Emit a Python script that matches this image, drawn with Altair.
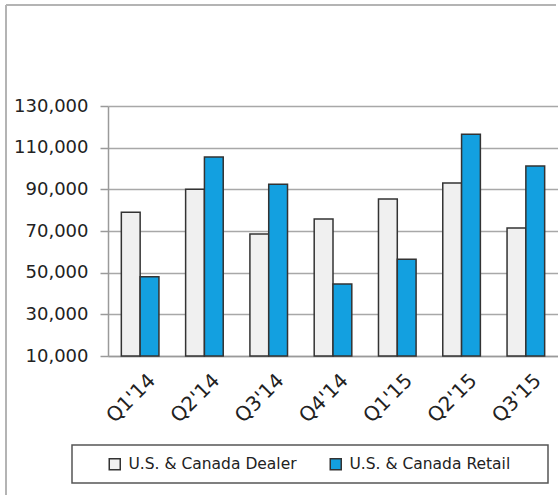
import altair as alt
import pandas as pd

quarters = ["Q1'14", "Q2'14", "Q3'14", "Q4'14", "Q1'15", "Q2'15", "Q3'15"]
dealer = [79000, 90000, 68600, 75800, 85400, 93000, 71400]
retail = [48000, 105500, 92500, 44600, 56500, 116500, 101200]
series_names = ["U.S. & Canada Dealer", "U.S. & Canada Retail"]
y_ticks = [10000, 30000, 50000, 70000, 90000, 110000, 130000]

rows = []
for q, d, r in zip(quarters, dealer, retail):
    rows.append({"quarter": q, "series": series_names[0], "value": d})
    rows.append({"quarter": q, "series": series_names[1], "value": r})
df = pd.DataFrame(rows)
one = pd.DataFrame({"k": [0]})

FONT = "DejaVu Sans"

bars = alt.Chart(df).mark_bar(stroke="#333333", strokeWidth=1.5).encode(
    x=alt.X(
        "quarter:N",
        sort=quarters,
        title=None,
        scale=alt.Scale(paddingInner=0.415, paddingOuter=0.2075),
        axis=alt.Axis(
            labelAngle=315,
            ticks=False,
            domainColor="#9a9a9a",
            domainWidth=1.5,
            labelFont=FONT,
            labelFontSize=20,
            labelColor="#222222",
            labelPadding=14,
            labelOffset=5,
        ),
    ),
    xOffset=alt.XOffset("series:N", sort=series_names, scale=alt.Scale(paddingInner=0, paddingOuter=0)),
    y=alt.Y(
        "value:Q",
        title=None,
        scale=alt.Scale(domain=[10000, 130000], nice=False, zero=False),
        axis=alt.Axis(
            values=y_ticks,
            format=",d",
            domainColor="#9a9a9a",
            domainWidth=1.5,
            tickColor="#9a9a9a",
            tickWidth=1.5,
            tickSize=8,
            gridColor="#a8a8a8",
            gridWidth=1.5,
            labelFont=FONT,
            labelFontSize=18,
            labelColor="#222222",
            labelPadding=12,
        ),
    ),
    y2=alt.datum(10000),
    color=alt.Color(
        "series:N",
        sort=series_names,
        scale=alt.Scale(domain=series_names, range=["#f0f0f0", "#13a0e0"]),
        legend=alt.Legend(
            title=None,
            orient="none",
            direction="horizontal",
            legendX=-1,
            legendY=350,
            padding=0,
            columnPadding=30,
            labelOffset=6,
            labelLimit=0,
            symbolType="square",
            symbolSize=121,
            symbolStrokeColor="#333333",
            symbolStrokeWidth=1.5,
            symbolOpacity=1,
            labelFont=FONT,
            labelFontSize=15.5,
            labelColor="#222222",
        ),
    ),
)

frame_top = alt.Chart(one).mark_rule(color="#b4b4b4", strokeWidth=2).encode(
    x=alt.value(-102), x2=alt.value(448), y=alt.value(-101)
)
frame_left = alt.Chart(one).mark_rule(color="#b4b4b4", strokeWidth=2).encode(
    x=alt.value(-102), y=alt.value(-101), y2=alt.value(389)
)
legend_box = alt.Chart(one).mark_rect(filled=False, stroke="#555555", strokeWidth=1.5).encode(
    x=alt.value(-36), x2=alt.value(440), y=alt.value(339), y2=alt.value(377)
)

chart = alt.layer(bars, frame_top, frame_left, legend_box).properties(
    width=450,
    height=250,
    autosize=alt.AutoSizeParams(type="none"),
    padding={"left": 108, "top": 106, "right": 0, "bottom": 139},
    background="white",
).configure_view(stroke=None)

chart.save("out.html", embed_options={"renderer": "svg", "actions": False})
